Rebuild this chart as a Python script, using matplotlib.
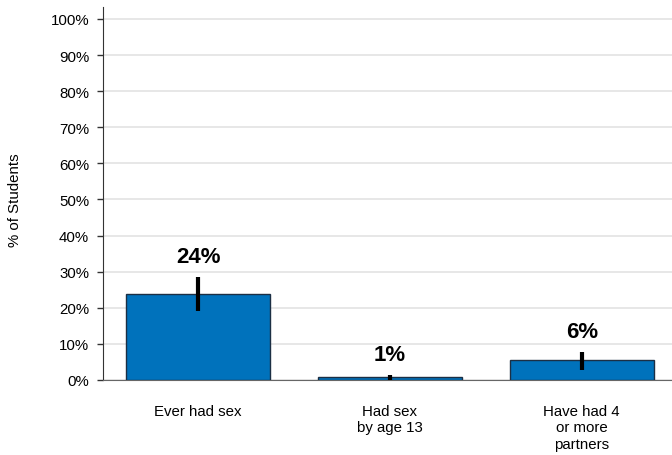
import matplotlib
matplotlib.use("Agg")
import matplotlib.pyplot as plt
import numpy as np

plt.rcParams['font.family'] = ['Liberation Sans', 'DejaVu Sans']

# data
categories = ["Ever had sex", "Had sex\nby age 13", "Have had 4\nor more\npartners"]
values = [23.8, 0.7, 5.6]
err_low = [19.1, 0.0, 2.8]
err_high = [28.5, 1.5, 7.8]
value_labels = ["24%", "1%", "6%"]
yticks = [0, 10, 20, 30, 40, 50, 60, 70, 80, 90, 100]

fig = plt.figure(figsize=(6.72, 4.56), dpi=100)
ax = fig.add_axes([0.1533, 0.1645, 0.8467, 0.818])

x = np.arange(len(categories))
ax.bar(x, values, width=0.75, color='#0072bc', edgecolor='#1c2f44', linewidth=1.0, zorder=3)

# confidence intervals, thick black lines without caps
for xi, lo, hi in zip(x, err_low, err_high):
    ax.plot([xi, xi], [lo, hi], color='black', linewidth=3.0, solid_capstyle='butt', zorder=4)

for xi, hi, lab in zip(x, err_high, value_labels):
    ax.text(xi, hi + 5.6, lab, ha='center', va='center', fontsize=16, fontweight='bold', zorder=5)

ax.set_xlim(-0.495, 2.47)
ax.set_ylim(0, 103.3)
ax.set_yticks(yticks)
ax.set_yticklabels([str(t) + "%" for t in yticks], fontsize=10.8)
ax.set_xticks(x)
ax.set_xticklabels(categories, fontsize=10.8, linespacing=1.25)
ax.tick_params(axis='x', length=0, pad=17)
ax.tick_params(axis='y', length=4, width=1, color='#333333', pad=6)

ax.yaxis.grid(True, color='#e3e3e3', linewidth=1.2, zorder=0)
ax.set_axisbelow(True)

for side in ['top', 'right']:
    ax.spines[side].set_visible(False)
ax.spines['left'].set_color('#333333')
ax.spines['bottom'].set_color('#666666')

fig.text(0.022, 0.56, "% of Students", rotation=90, ha='center', va='center', fontsize=10.8)

fig.savefig("out.png", dpi=100)
